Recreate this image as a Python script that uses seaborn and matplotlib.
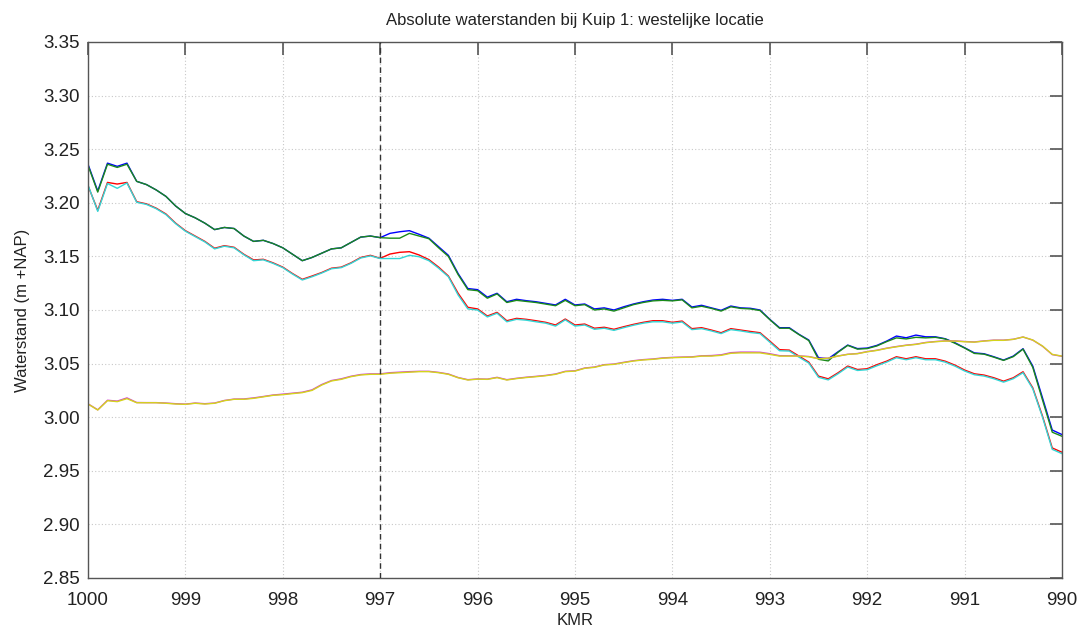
import numpy as np
import pandas as pd
import matplotlib
matplotlib.use("Agg")
import matplotlib.pyplot as plt
import seaborn as sns

# ---------------- data ----------------
kmr = [round(1000 - 0.1 * i, 1) for i in range(101)]

blue = [3.236, 3.211, 3.237, 3.234, 3.237, 3.220, 3.217, 3.212, 3.206, 3.197,
        3.190, 3.186, 3.181, 3.175, 3.177, 3.176, 3.169, 3.164, 3.165, 3.162,
        3.158, 3.152, 3.146, 3.149, 3.153, 3.157, 3.158, 3.163, 3.168, 3.169,
        3.1675, 3.1715, 3.173, 3.174, 3.1706, 3.167, 3.159, 3.151, 3.134, 3.120,
        3.119, 3.112, 3.1156, 3.1077, 3.110, 3.1087, 3.1077, 3.1062, 3.1047, 3.110,
        3.1047, 3.1056, 3.101, 3.102, 3.100, 3.103, 3.1056, 3.1077, 3.1093, 3.110,
        3.1090, 3.110, 3.1028, 3.1044, 3.102, 3.0997, 3.1037, 3.102, 3.1016, 3.100,
        3.0913, 3.0835, 3.0835, 3.0773, 3.072, 3.0555, 3.0545, 3.061, 3.0673, 3.064,
        3.0645, 3.067, 3.071, 3.0757, 3.0741, 3.0766, 3.075, 3.075, 3.0732, 3.0695,
        3.0648, 3.060, 3.0592, 3.0564, 3.0533, 3.057, 3.0639, 3.0477, 3.018, 2.988,
        2.9838]

green = [3.235, 3.210, 3.236, 3.233, 3.236, 3.220, 3.217, 3.212, 3.206, 3.197,
         3.190, 3.186, 3.181, 3.175, 3.177, 3.176, 3.169, 3.164, 3.165, 3.162,
         3.158, 3.152, 3.146, 3.149, 3.153, 3.157, 3.158, 3.163, 3.168, 3.169,
         3.1675, 3.167, 3.167, 3.1715, 3.169, 3.1665, 3.158, 3.150, 3.133, 3.119,
         3.118, 3.111, 3.115, 3.107, 3.109, 3.108, 3.107, 3.1055, 3.104, 3.109,
         3.104, 3.105, 3.100, 3.101, 3.099, 3.102, 3.105, 3.107, 3.1085, 3.109,
         3.1085, 3.1095, 3.102, 3.1035, 3.1015, 3.099, 3.103, 3.1015, 3.101, 3.0995,
         3.091, 3.083, 3.083, 3.077, 3.0715, 3.054, 3.0525, 3.0605, 3.067, 3.0635,
         3.064, 3.0665, 3.0705, 3.074, 3.073, 3.0745, 3.0740, 3.0745, 3.073, 3.069,
         3.0645, 3.0595, 3.0588, 3.056, 3.053, 3.0565, 3.0635, 3.0465, 3.016, 2.986,
         2.9822]

red = [3.216, 3.193, 3.219, 3.2175, 3.219, 3.201, 3.199, 3.195, 3.1896, 3.181,
       3.174, 3.169, 3.164, 3.1576, 3.160, 3.1585, 3.152, 3.1467, 3.1473, 3.144,
       3.140, 3.134, 3.1286, 3.1317, 3.135, 3.139, 3.140, 3.144, 3.149, 3.151,
       3.1482, 3.1522, 3.1538, 3.1544, 3.1513, 3.147, 3.140, 3.1317, 3.1156, 3.1025,
       3.101, 3.0944, 3.0978, 3.090, 3.0922, 3.0913, 3.090, 3.0885, 3.086, 3.0916,
       3.086, 3.0869, 3.083, 3.0839, 3.082, 3.0844, 3.0866, 3.0885, 3.090, 3.090,
       3.0885, 3.0897, 3.0826, 3.0835, 3.0813, 3.0788, 3.0826, 3.0813, 3.080, 3.0788,
       3.071, 3.063, 3.0626, 3.057, 3.0514, 3.0383, 3.0358, 3.0414, 3.0477, 3.0445,
       3.0452, 3.049, 3.0523, 3.0564, 3.0545, 3.0564, 3.0545, 3.0545, 3.0523, 3.0486,
       3.044, 3.0405, 3.0393, 3.0368, 3.0336, 3.0368, 3.0424, 3.0274, 3.001, 2.9713,
       2.9673]

cyan = [3.2166, 3.192, 3.218, 3.2135, 3.2185, 3.2005, 3.1985, 3.1945, 3.189, 3.1805,
        3.1735, 3.1685, 3.1635, 3.157, 3.1595, 3.158, 3.1515, 3.146, 3.1468, 3.1435,
        3.1395, 3.1335, 3.128, 3.131, 3.1345, 3.1385, 3.1395, 3.1435, 3.1485, 3.1505,
        3.148, 3.148, 3.148, 3.151, 3.1497, 3.146, 3.139, 3.131, 3.114, 3.101,
        3.100, 3.0935, 3.097, 3.089, 3.0913, 3.0905, 3.089, 3.0877, 3.085, 3.0908,
        3.085, 3.086, 3.082, 3.083, 3.081, 3.0835, 3.0858, 3.0877, 3.089, 3.089,
        3.0877, 3.0888, 3.0817, 3.0826, 3.0805, 3.078, 3.0817, 3.0805, 3.079, 3.078,
        3.070, 3.062, 3.0617, 3.056, 3.0505, 3.0372, 3.0348, 3.0405, 3.0468, 3.0436,
        3.0443, 3.048, 3.0514, 3.0555, 3.0536, 3.0555, 3.0536, 3.0536, 3.0514, 3.0477,
        3.0431, 3.0396, 3.0384, 3.0359, 3.0327, 3.0359, 3.0415, 3.0265, 3.000, 2.9700,
        2.9660]

magenta = [3.0125, 3.0069, 3.0158, 3.0150, 3.0180, 3.0137, 3.0136, 3.0136, 3.0132, 3.0126,
           3.0122, 3.0132, 3.0126, 3.0132, 3.0156, 3.0169, 3.0170, 3.0180, 3.0193, 3.0207,
           3.0215, 3.0224, 3.0233, 3.0255, 3.0305, 3.0342, 3.0358, 3.0382, 3.0398, 3.0404,
           3.0404, 3.0415, 3.0420, 3.0425, 3.0428, 3.0428, 3.0418, 3.0403, 3.0370, 3.0350,
           3.0357, 3.0355, 3.0372, 3.0350, 3.0363, 3.0373, 3.0381, 3.0390, 3.0403, 3.0428,
           3.0433, 3.0459, 3.0468, 3.0490, 3.0496, 3.0512, 3.0527, 3.0537, 3.0543, 3.0553,
           3.0558, 3.0561, 3.0563, 3.0573, 3.0575, 3.0582, 3.0602, 3.0607, 3.0607, 3.0606,
           3.0592, 3.0574, 3.0573, 3.0572, 3.0566, 3.0547, 3.0551, 3.0571, 3.0587, 3.0594,
           3.0612, 3.0625, 3.0644, 3.0659, 3.0672, 3.0681, 3.0697, 3.0706, 3.0712, 3.0712,
           3.0706, 3.0702, 3.0712, 3.0719, 3.0719, 3.0727, 3.0748, 3.0719, 3.0662, 3.0584,
           3.0568]

yellow = [3.0123, 3.0067, 3.0154, 3.0145, 3.0173, 3.0135, 3.0135, 3.0135, 3.013, 3.0123,
          3.012, 3.013, 3.0123, 3.013, 3.0154, 3.0167, 3.0167, 3.0176, 3.019, 3.0204,
          3.021, 3.022, 3.0229, 3.025, 3.030, 3.0338, 3.0353, 3.0378, 3.0394, 3.040,
          3.040, 3.041, 3.0415, 3.042, 3.0425, 3.0425, 3.0415, 3.040, 3.0368, 3.0347,
          3.0355, 3.0353, 3.0369, 3.0347, 3.036, 3.037, 3.0378, 3.0387, 3.040, 3.0425,
          3.043, 3.0456, 3.0465, 3.0487, 3.0493, 3.0509, 3.0524, 3.0534, 3.054, 3.055,
          3.0555, 3.0558, 3.056, 3.057, 3.057, 3.0577, 3.0596, 3.060, 3.060, 3.060,
          3.0586, 3.057, 3.057, 3.057, 3.0564, 3.0545, 3.055, 3.057, 3.0586, 3.0592,
          3.061, 3.0623, 3.0642, 3.0657, 3.067, 3.0679, 3.0695, 3.0704, 3.071, 3.071,
          3.0704, 3.070, 3.071, 3.0717, 3.0717, 3.0726, 3.0748, 3.072, 3.0664, 3.0586,
          3.057]

series_names = ["blue", "green", "red", "cyan", "magenta", "yellow"]
series_colors = ["#0000ff", "#1a8a1a", "#ff0000", "#33d6d6", "#d040d0", "#d4d41c"]

x_ticks = [1000, 999, 998, 997, 996, 995, 994, 993, 992, 991, 990]
y_ticks = [2.85, 2.90, 2.95, 3.00, 3.05, 3.10, 3.15, 3.20, 3.25, 3.30, 3.35]
marker_km = 997

title = "Absolute waterstanden bij Kuip 1: westelijke locatie"
xlabel = "KMR"
ylabel = "Waterstand (m +NAP)"

# ---------------- build frame ----------------
values = [blue, green, red, cyan, magenta, yellow]
frames = []
for name, vals in zip(series_names, values):
    frames.append(pd.DataFrame({"KMR": kmr, "Waterstand": vals, "serie": name}))
df = pd.concat(frames, ignore_index=True)

# ---------------- plot ----------------
sns.set_theme(style="white")
plt.rcParams["font.family"] = ["Liberation Sans", "DejaVu Sans"]

fig = plt.figure(figsize=(10.85, 6.37), dpi=100)
ax = fig.add_axes([88 / 1085, 59 / 637, (1062 - 88) / 1085, (578 - 42) / 637])

sns.lineplot(data=df, x="KMR", y="Waterstand", hue="serie",
             hue_order=series_names, palette=dict(zip(series_names, series_colors)),
             estimator=None, sort=False, legend=False, linewidth=1.0, ax=ax)

ax.axvline(marker_km, color="#333333", linestyle=(0, (4, 3)), linewidth=1.0, zorder=3)

ax.set_xlim(1000, 990)
ax.set_ylim(2.85, 3.35)
ax.set_xticks(x_ticks)
ax.set_xticklabels([str(t) for t in x_ticks])
ax.set_yticks(y_ticks)
ax.set_yticklabels([f"{t:.2f}" for t in y_ticks])

ax.grid(True, color="#c8c8c8", linestyle=(0, (1, 2)), linewidth=0.8)
ax.set_axisbelow(True)

for s in ax.spines.values():
    s.set_visible(True)
    s.set_color("#555555")
    s.set_linewidth(1.0)

ax.tick_params(axis="both", direction="in", length=9, width=1.2, color="#555555",
               top=True, right=True, labelsize=13.5, labelcolor="#222222")
ax.tick_params(axis="x", pad=10)
ax.tick_params(axis="y", pad=6)

ax.set_title(title, fontsize=12, color="#222222", pad=12)
ax.set_xlabel(xlabel, fontsize=12, color="#222222", labelpad=3)
ax.set_ylabel(ylabel, fontsize=12, color="#222222", labelpad=9)

fig.savefig("out.png", dpi=100, facecolor="white")
